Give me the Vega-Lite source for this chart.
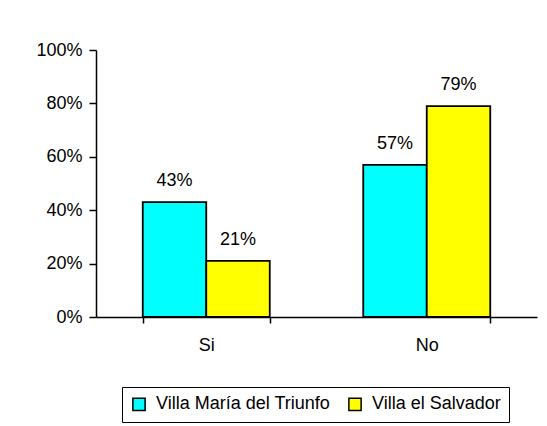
{
  "$schema": "https://vega.github.io/schema/vega-lite/v6.json",
  "autosize": {"type": "none"},
  "width": 441,
  "height": 267,
  "padding": {"left": 96, "top": 50, "right": 10, "bottom": 109},
  "background": "white",
  "config": {
    "font": "Liberation Sans",
    "view": {"stroke": null}
  },
  "data": {
    "values": [
      {"respuesta": "Si", "distrito": "Villa María del Triunfo", "valor": 0.43},
      {"respuesta": "Si", "distrito": "Villa el Salvador", "valor": 0.21},
      {"respuesta": "No", "distrito": "Villa María del Triunfo", "valor": 0.57},
      {"respuesta": "No", "distrito": "Villa el Salvador", "valor": 0.79}
    ]
  },
  "encoding": {
    "x": {
      "field": "respuesta", "type": "nominal", "sort": ["Si", "No"],
      "scale": {"paddingInner": 0.424, "paddingOuter": 0.212},
      "axis": {
        "title": null, "labelAngle": 0, "labelFontSize": 18, "labelColor": "black",
        "domainColor": "black", "domainWidth": 1.5, "tickColor": "black", "tickWidth": 1.5,
        "tickBand": "extent", "tickSize": 6, "labelPadding": 13
      }
    },
    "xOffset": {"field": "distrito", "type": "nominal", "sort": ["Villa María del Triunfo", "Villa el Salvador"]},
    "y": {
      "field": "valor", "type": "quantitative",
      "scale": {"domain": [0, 1]},
      "axis": {
        "title": null, "format": ".0%", "values": [0, 0.2, 0.4, 0.6, 0.8, 1],
        "grid": false, "labelFontSize": 18, "labelColor": "black",
        "domainColor": "black", "domainWidth": 1.5, "tickColor": "black", "tickWidth": 1.5,
        "tickSize": 7, "labelPadding": 7
      }
    }
  },
  "layer": [
    {
      "mark": {"type": "bar", "stroke": "black", "strokeWidth": 1.8},
      "encoding": {
        "color": {
          "field": "distrito", "type": "nominal",
          "sort": ["Villa María del Triunfo", "Villa el Salvador"],
          "scale": {"range": ["#00FFFF", "#FFFF00"]},
          "legend": {
            "title": null, "orient": "none", "direction": "horizontal",
            "legendX": 26, "legendY": 337,
            "strokeColor": "black", "padding": 8,
            "symbolType": "square", "symbolSize": 150, "symbolStrokeColor": "black",
            "symbolStrokeWidth": 1.5, "symbolOpacity": 1,
            "labelFontSize": 18, "labelColor": "black", "labelLimit": 400,
            "columnPadding": 14, "labelOffset": 8
          }
        }
      }
    },
    {
      "mark": {"type": "text", "baseline": "alphabetic", "dy": -16, "fontSize": 18, "color": "black"},
      "encoding": {
        "text": {"field": "valor", "type": "quantitative", "format": ".0%"}
      }
    }
  ]
}
